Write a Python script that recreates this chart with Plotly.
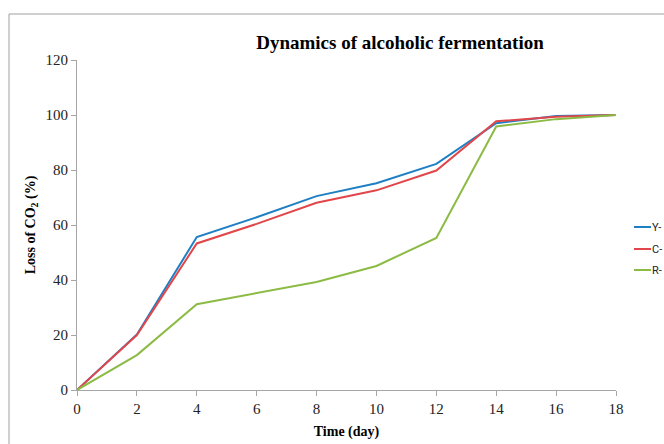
import plotly.graph_objects as go

days = [0, 2, 4, 6, 8, 10, 12, 14, 16, 18]
y_series = [0, 20.2, 55.6, 62.8, 70.5, 75.2, 82.2, 97.0, 99.6, 100]
c_series = [0, 20.0, 53.3, 60.4, 68.1, 72.6, 79.8, 97.7, 99.4, 100]
r_series = [0, 12.7, 31.2, 35.3, 39.3, 45.1, 55.3, 95.8, 98.5, 100]
names = ["Y-", "C-", "R-"]
colors = ["#1f7fc4", "#e0464a", "#8cbb45"]
x_ticks = list(range(0, 19, 2))
y_ticks = list(range(0, 121, 20))

serif = "Palatino Linotype, Book Antiqua, Liberation Serif, DejaVu Serif, serif"

W, H = 664, 444
L, R, T, B = 77, 48, 60, 54
PW, PH = W - L - R, H - T - B


def px_x(p):
    return (p - L) / PW


def px_y(p):
    return (H - B - p) / PH


fig = go.Figure()
for name, vals, col in zip(names, [y_series, c_series, r_series], colors):
    fig.add_trace(go.Scatter(x=days, y=vals, mode="lines", name=name,
                             line=dict(color=col, width=2), showlegend=False))

axis_common = dict(showline=True, linecolor="#a6a6a6", linewidth=1,
                   ticks="outside", tickcolor="#a6a6a6", ticklen=5,
                   showgrid=False, zeroline=False, automargin=False,
                   tickfont=dict(family=serif, size=15, color="#222"))

shapes = [
    dict(type="line", xref="paper", yref="paper",
         x0=px_x(9), x1=px_x(9), y0=-0.3, y1=px_y(14),
         line=dict(color="#a0a0a0", width=1)),
    dict(type="line", xref="paper", yref="paper",
         x0=px_x(9), x1=1.2, y0=px_y(14), y1=px_y(14),
         line=dict(color="#a0a0a0", width=1)),
]
annotations = []
legend_rows = [227, 249, 270]
for name, col, yy in zip(names, colors, legend_rows):
    shapes.append(dict(type="line", xref="paper", yref="paper",
                       x0=px_x(634), x1=px_x(651), y0=px_y(yy), y1=px_y(yy),
                       line=dict(color=col, width=2)))
    annotations.append(dict(text=name, xref="paper", yref="paper",
                            x=px_x(651), y=px_y(yy), xanchor="left", yanchor="middle",
                            showarrow=False, borderpad=0,
                            font=dict(family="Liberation Sans Narrow, Roboto, Liberation Sans, sans-serif",
                                      size=11, color="#222")))

fig.update_layout(
    width=W, height=H,
    margin=dict(l=L, r=R, t=T, b=B),
    plot_bgcolor="white", paper_bgcolor="white",
    showlegend=False,
    title=dict(text="<b>Dynamics of alcoholic fermentation</b>",
               x=400 / W, xanchor="center", y=1 - 42 / H, yanchor="middle",
               font=dict(family=serif, size=19, color="black")),
    xaxis=dict(range=[0, 18], tickvals=x_ticks, **axis_common,
               title=dict(text="<b>Time (day)</b>", standoff=10,
                          font=dict(family=serif, size=14, color="black"))),
    yaxis=dict(range=[0, 120], tickvals=y_ticks, **axis_common,
               title=dict(text="<b>Loss of CO<sub>2</sub> (%)</b>", standoff=6,
                          font=dict(family=serif, size=14, color="black"))),
    shapes=shapes,
    annotations=annotations,
)

fig.write_html("out.html", post_script="document.body.style.margin='0';",
               config={"displayModeBar": False})
